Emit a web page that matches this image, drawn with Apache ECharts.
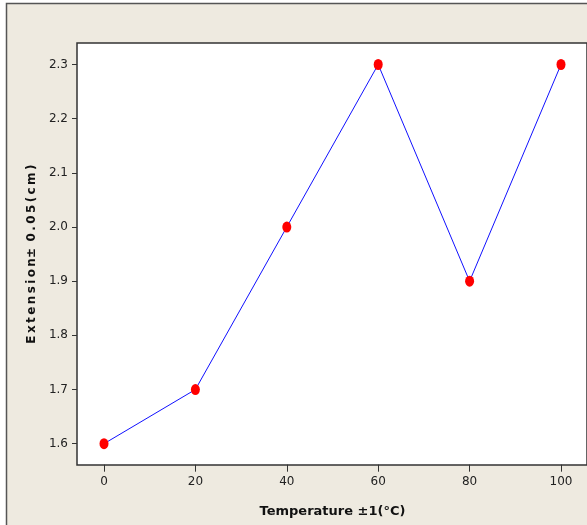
<!DOCTYPE html>
<html>
<head>
<meta charset="utf-8">
<script src="https://cdn.jsdelivr.net/npm/echarts@6/dist/echarts.min.js"></script>
<style>
  html, body { margin: 0; padding: 0; background: #fff; }
  #chart { width: 587px; height: 525px; }
</style>
</head>
<body>
<div id="chart"></div>
<script>
// temperature (°C) and measured extension (cm)
var temperature = [0, 20, 40, 60, 80, 100];
var extension = [1.6, 1.7, 2.0, 2.3, 1.9, 2.3];

var font = 'Tahoma, Verdana, "DejaVu Sans", sans-serif';
var thin = '\u2009';

var chart = echarts.init(document.getElementById('chart'));

// grid 0 is the white framed plot box, grid 1 holds the data and the axes
// (pushed out to the box edges with offset so the ticks start at 0 / 1.6)
var option = {
    backgroundColor: '#ffffff',
    animation: false,
    graphic: [{
        type: 'rect',
        z: -10,
        shape: { x: 6.5, y: 3.5, width: 600, height: 540 },
        style: { fill: '#eeeae0', stroke: '#555', lineWidth: 1.5 }
    }],
    grid: [{
        show: true,
        left: 77, top: 43, right: -2, bottom: 60,
        backgroundColor: '#ffffff',
        borderColor: '#333',
        borderWidth: 1.5
    }, {
        left: 104, top: 64.5, right: 26, bottom: 81.3
    }],
    xAxis: [{
        gridIndex: 0, type: 'value', show: false, min: 0, max: 1
    }, {
        gridIndex: 1,
        type: 'value',
        min: 0, max: 100, interval: 20,
        offset: 21,
        name: 'Temperature ±1(°C)',
        nameLocation: 'middle',
        nameGap: 40,
        nameTextStyle: { fontFamily: font, fontWeight: 'bold', fontSize: 13, color: '#111' },
        axisLine: { show: false, onZero: false },
        axisTick: { show: true, inside: false, length: 7, lineStyle: { color: '#333', width: 1 } },
        axisLabel: { fontFamily: font, fontSize: 12, color: '#222', margin: 11 },
        splitLine: { show: false }
    }],
    yAxis: [{
        gridIndex: 0, type: 'value', show: false, min: 0, max: 1
    }, {
        gridIndex: 1,
        type: 'value',
        min: 1.6, max: 2.3, interval: 0.1,
        offset: 27,
        name: 'Extension'.split('').join(thin) + '±' + thin + ' ' + '0.05(cm)'.split('').join(thin),
        nameLocation: 'middle',
        nameGap: 37,
        nameRotate: 90,
        nameTextStyle: { fontFamily: font, fontWeight: 'bold', fontSize: 12, color: '#111' },
        axisLine: { show: false, onZero: false },
        axisTick: { show: true, inside: false, length: 5, lineStyle: { color: '#333', width: 1 } },
        axisLabel: { fontFamily: font, fontSize: 12, color: '#222', margin: 9,
            formatter: function (v) { return v.toFixed(1); } },
        splitLine: { show: false }
    }],
    series: [{
        type: 'line',
        xAxisIndex: 1,
        yAxisIndex: 1,
        data: temperature.map(function (t, i) { return [t, extension[i]]; }),
        lineStyle: { color: '#1010ff', width: 1 },
        symbol: 'circle',
        symbolSize: [9, 11],
        itemStyle: { color: '#ff0000' }
    }]
};

chart.setOption(option);
</script>
</body>
</html>
